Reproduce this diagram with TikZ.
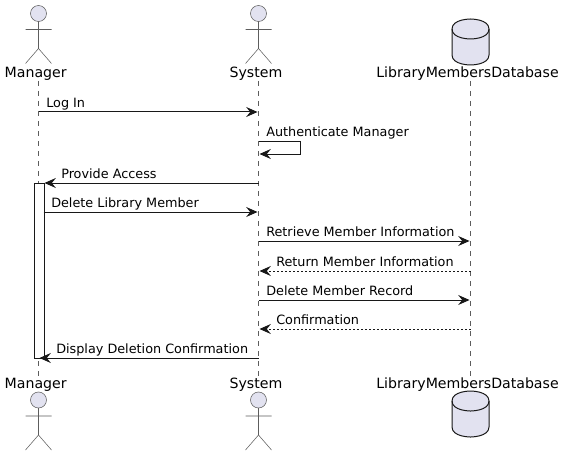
\documentclass[tikz,border=0pt]{standalone}
\usepackage{fontspec}
\setmainfont{DejaVu Sans}
\usetikzlibrary{arrows.meta}
\definecolor{partfill}{HTML}{E2E2F0}
\definecolor{ink}{HTML}{181818}
\tikzset{
  x=0.75pt,y=-0.75pt,
  lifeline/.style={draw=ink!70,line width=0.4pt,dash pattern=on 3.75pt off 3.75pt},
  msg/.style={draw=ink,line width=0.75pt,-{Stealth[length=8.5pt,width=7.5pt,inset=3pt]}},
  reply/.style={msg,dash pattern=on 1.5pt off 1.5pt},
  msglabel/.style={anchor=base west,inner sep=0pt,font=\fontsize{9.6pt}{12pt}\selectfont,text=black},
  partlabel/.style={anchor=base,inner sep=0pt,font=\fontsize{10.6pt}{12pt}\selectfont,text=black},
  activation/.style={draw=ink,line width=0.75pt,fill=white},
  actorline/.style={draw=ink!70,line width=0.4pt},
  actorhead/.style={draw=ink!70,line width=0.4pt,fill=partfill},
  dbshape/.style={draw=ink,line width=0.75pt,fill=partfill},
}
\newcommand{\actorfig}[2]{%
  \draw[actorhead] (#1,#2) circle[radius=8];
  \draw[actorline] (#1,#2+8) -- (#1,#2+35) (#1-13,#2+16) -- (#1+13,#2+16)
    (#1-13,#2+50) -- (#1,#2+35) -- (#1+13,#2+50);
}
\newcommand{\dbfig}[2]{%
  \draw[dbshape] (#1-18.5,#2+10) .. controls (#1-18.5,#2) and (#1,#2) .. (#1,#2)
    .. controls (#1,#2) and (#1+18.5,#2) .. (#1+18.5,#2+10)
    -- (#1+18.5,#2+36) .. controls (#1+18.5,#2+46) and (#1,#2+46) .. (#1,#2+46)
    .. controls (#1,#2+46) and (#1-18.5,#2+46) .. (#1-18.5,#2+36) -- cycle;
  \draw[dbshape,fill=none] (#1-18.5,#2+10) .. controls (#1-18.5,#2+20) and (#1,#2+20) .. (#1,#2+20)
    .. controls (#1,#2+20) and (#1+18.5,#2+20) .. (#1+18.5,#2+10);
}
\begin{document}
\begin{tikzpicture}
\useasboundingbox[fill=white] (0,0) rectangle (566,456);
% lifeline ends
\coordinate (mt) at (38.5,81); \coordinate (mb) at (38.5,378);
\coordinate (st) at (258.5,81); \coordinate (sb) at (258.5,378);
\coordinate (dt) at (470.5,81); \coordinate (db) at (470.5,378);
\draw[lifeline] (mt) -- (mb);
\draw[lifeline] (st) -- (sb);
\draw[lifeline] (dt) -- (db);
% participants
\actorfig{38.5}{13.5}
\actorfig{258.5}{13.5}
\dbfig{470.5}{19}
\actorfig{38.5}{400}
\actorfig{258.5}{400}
\dbfig{470.5}{391}
\node[partlabel] (mgrTop) at (35.7,78) {Manager};
\node[partlabel] (sysTop) at (256,78) {System};
\node[partlabel] (dbTop) at (467.5,78) {LibraryMembersDatabase};
\node[partlabel] (mgrBot) at (35.7,388) {Manager};
\node[partlabel] (sysBot) at (256,388) {System};
\node[partlabel] (dbBot) at (467.5,388) {LibraryMembersDatabase};
% activation
\node[activation,inner sep=0pt,minimum width=7.5pt,minimum height=131.25pt,anchor=north west] (act) at (33.5,183) {};
% anchors
\coordinate (m1a) at (38.5,112); \coordinate (m1b) at (257.5,112);
\coordinate (m2a) at (258.5,141); \coordinate (m2c) at (300.5,141); \coordinate (m2d) at (300.5,154); \coordinate (m2b) at (259.5,154);
\coordinate (m3a) at (258.5,183); \coordinate (m3b) at (44.5,183);
\coordinate (m4a) at (43.5,212); \coordinate (m4b) at (257.5,212);
\coordinate (m5a) at (258.5,241); \coordinate (m5b) at (469.5,241);
\coordinate (m6a) at (470.5,271); \coordinate (m6b) at (259.5,271);
\coordinate (m7a) at (258.5,300); \coordinate (m7b) at (469.5,300);
\coordinate (m8a) at (470.5,329); \coordinate (m8b) at (259.5,329);
\coordinate (m9a) at (258.5,358); \coordinate (m9b) at (39.5,358);
% messages
\draw[msg] (m1a) -- (m1b);
\draw[msg] (m2a) -- (m2c) -- (m2d) -- (m2b);
\draw[msg] (m3a) -- (m3b);
\draw[msg] (m4a) -- (m4b);
\draw[msg] (m5a) -- (m5b);
\draw[reply] (m6a) -- (m6b);
\draw[msg] (m7a) -- (m7b);
\draw[reply] (m8a) -- (m8b);
\draw[msg] (m9a) -- (m9b);
% labels
\node[msglabel] (l1) at (46,107.5) {Log In};
\node[msglabel] (l2) at (266,136.5) {Authenticate Manager};
\node[msglabel] (l3) at (61,178.5) {Provide Access};
\node[msglabel] (l4) at (51,207.5) {Delete Library Member};
\node[msglabel] (l5) at (266,236.5) {Retrieve Member Information};
\node[msglabel] (l6) at (276,266) {Return Member Information};
\node[msglabel] (l7) at (266,295.5) {Delete Member Record};
\node[msglabel] (l8) at (276,324.5) {Confirmation};
\node[msglabel] (l9) at (56,353.5) {Display Deletion Confirmation};
\end{tikzpicture}
\end{document}
